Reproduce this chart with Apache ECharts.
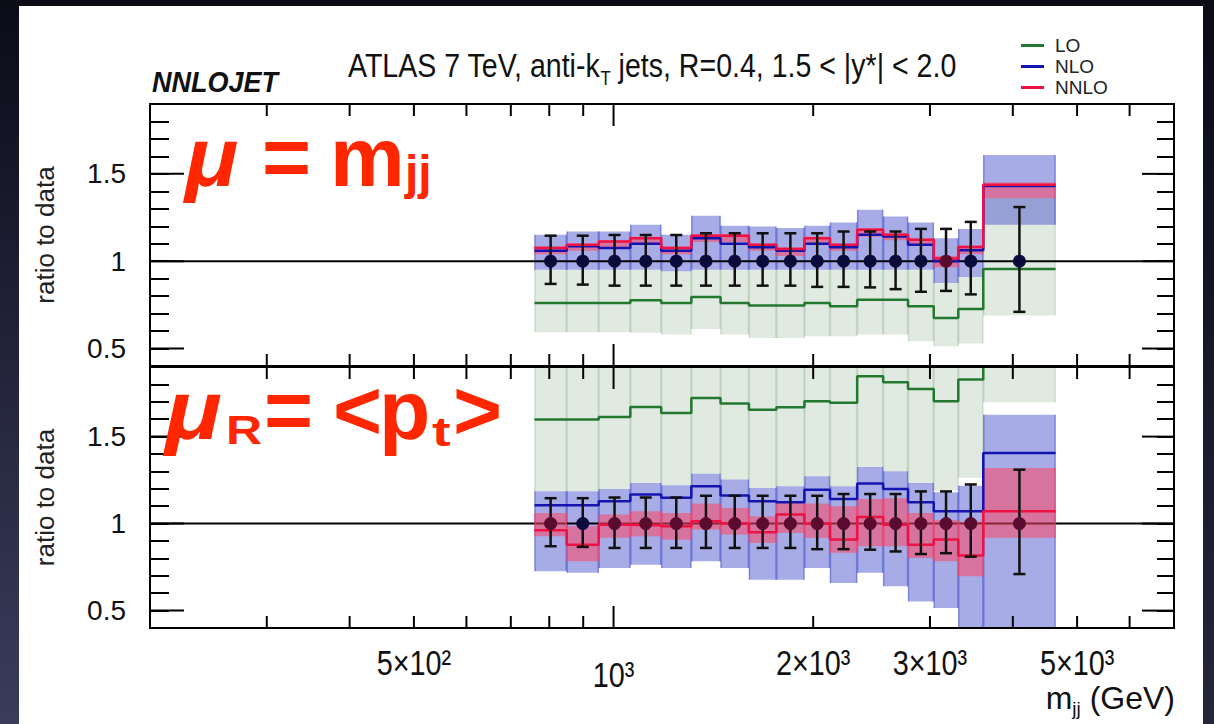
<!DOCTYPE html>
<html><head><meta charset="utf-8">
<script src="https://cdn.jsdelivr.net/npm/echarts@6/dist/echarts.min.js"></script>
<style>html,body{margin:0;padding:0;background:#fff}#c{width:1214px;height:724px}</style>
</head><body><div id="c"></div>
<script>
// ---------------- data ----------------
const binEdges = [760, 850, 950, 1060, 1180, 1310, 1450, 1600, 1760, 1940, 2120, 2330, 2550, 2780, 3040, 3310, 3610, 4640];
const dataRatio = [1, 1, 1, 1, 1, 1, 1, 1, 1, 1, 1, 1, 1, 1, 1, 1, 1];
const dataErrHigh = [1.146, 1.146, 1.15, 1.15, 1.15, 1.16, 1.16, 1.16, 1.16, 1.16, 1.17, 1.17, 1.17, 1.185, 1.185, 1.225, 1.31];
const dataErrLow  = [0.87, 0.866, 0.86, 0.86, 0.86, 0.86, 0.86, 0.86, 0.86, 0.853, 0.853, 0.85, 0.84, 0.825, 0.83, 0.81, 0.71];

// top panel: mu = m_jj
const loTop   = [0.761, 0.761, 0.761, 0.776, 0.761, 0.795, 0.761, 0.746, 0.746, 0.761, 0.742, 0.78, 0.78, 0.742, 0.675, 0.727, 0.955];
const nloTop  = [1.06, 1.085, 1.075, 1.10, 1.06, 1.132, 1.10, 1.08, 1.06, 1.10, 1.08, 1.151, 1.142, 1.094, 1.0, 1.062, 1.43];
const nnloTop = [1.075, 1.094, 1.113, 1.132, 1.075, 1.146, 1.146, 1.094, 1.07, 1.132, 1.094, 1.18, 1.151, 1.123, 1.015, 1.081, 1.437];
const loTopBandHi   = [0.951, 0.951, 0.951, 0.951, 0.942, 0.951, 0.951, 0.951, 0.951, 0.951, 0.951, 0.951, 0.951, 0.951, 0.875, 0.91, 1.36];
const loTopBandLo   = [0.593, 0.593, 0.593, 0.59, 0.58, 0.612, 0.58, 0.561, 0.561, 0.57, 0.57, 0.58, 0.58, 0.542, 0.513, 0.529, 0.689];
const nloTopBandHi  = [1.151, 1.17, 1.17, 1.209, 1.151, 1.26, 1.203, 1.199, 1.19, 1.203, 1.222, 1.294, 1.256, 1.222, 1.132, 1.184, 1.608];
const nloTopBandLo  = [0.951, 0.951, 0.951, 0.951, 0.942, 0.951, 0.951, 0.951, 0.951, 0.951, 0.951, 0.951, 0.951, 0.951, 0.875, 0.91, 1.209];
const nnloTopBandHi = [1.085, 1.10, 1.12, 1.14, 1.085, 1.155, 1.155, 1.10, 1.08, 1.14, 1.10, 1.19, 1.16, 1.13, 1.03, 1.09, 1.45];
const nnloTopBandLo = [1.04, 1.06, 1.08, 1.10, 1.04, 1.11, 1.11, 1.06, 1.03, 1.10, 1.06, 1.14, 1.12, 1.09, 0.965, 1.04, 1.36];

// bottom panel: mu_R = <p_t>
const loBot   = [1.598, 1.598, 1.613, 1.67, 1.636, 1.722, 1.69, 1.655, 1.669, 1.703, 1.694, 1.847, 1.812, 1.774, 1.703, 1.828, 2.05];
const nloBot  = [1.105, 1.105, 1.128, 1.167, 1.148, 1.214, 1.161, 1.128, 1.123, 1.195, 1.142, 1.23, 1.199, 1.123, 1.071, 1.071, 1.406];
const nnloBot = [0.962, 0.879, 0.994, 0.99, 0.985, 1.013, 1.0, 0.95, 1.052, 1.0, 0.908, 1.038, 0.994, 0.879, 0.908, 0.816, 1.071];
const loBotBandHi   = [2.3, 2.3, 2.3, 2.3, 2.3, 2.3, 2.3, 2.3, 2.3, 2.3, 2.3, 2.3, 2.3, 2.3, 2.3, 2.3, 2.3];
const loBotBandLo   = [1.186, 1.186, 1.199, 1.234, 1.22, 1.287, 1.253, 1.205, 1.214, 1.272, 1.214, 1.326, 1.301, 1.234, 1.19, 1.263, 1.697];
const nloBotBandHi  = [1.186, 1.186, 1.199, 1.234, 1.22, 1.287, 1.253, 1.205, 1.214, 1.272, 1.214, 1.326, 1.301, 1.234, 1.18, 1.218, 1.626];
const nloBotBandLo  = [0.726, 0.717, 0.745, 0.764, 0.745, 0.783, 0.745, 0.678, 0.678, 0.745, 0.659, 0.717, 0.64, 0.553, 0.515, 0.3, 0.3];
const nnloBotBandHi = [1.061, 0.985, 1.052, 1.071, 1.061, 1.115, 1.09, 1.042, 1.123, 1.115, 1.10, 1.142, 1.146, 1.061, 1.02, 1.01, 1.32];
const nnloBotBandLo = [0.927, 0.783, 0.918, 0.927, 0.908, 0.966, 0.937, 0.889, 0.946, 0.918, 0.832, 0.87, 0.87, 0.803, 0.783, 0.697, 0.918];

// axes
const xMin = 200, xMax = 7000;
const yMin = 0.4, yMax = 1.9;
const xMinorTicks = [300, 400, 500, 600, 700, 800, 900, 2000, 3000, 4000, 5000, 6000];
const xMajorTicks = [1000];
const xLabelValues = [500, 1000, 2000, 3000, 5000];
const xLabelTexts = ['5×10²', '10³', '2×10³', '3×10³', '5×10³'];
const yMajorTicks = [0.5, 1, 1.5];
const yLabelValues = [0.5, 1, 1.5];
const refLine = 1;

// ---------------- style ----------------
const FONT = "'Liberation Sans', Arial, Helvetica, sans-serif";
const C_LO = '#23782f', C_NLO = '#1414b0', C_NNLO = '#ee1144';
const F_LO = 'rgba(100,150,100,0.2)', F_NLO = 'rgba(60,70,200,0.45)', F_NNLO = 'rgba(255,70,100,0.55)';
const PT_PLAIN = '#0b0b3b', PT_UNDER_NNLO = '#5a0b2e';
const RED = '#ff2600';

const chart = echarts.init(document.getElementById('c'), null, {renderer: 'svg'});

function binCenters() { return binEdges.slice(0, -1).map((e, i) => Math.sqrt(e * binEdges[i + 1])); }

function bandSeries(g, lo, hi, color, z) {
  return {
    type: 'custom', xAxisIndex: g, yAxisIndex: g * 2, clip: true, z: z, silent: true,
    data: lo.map((l, i) => [binEdges[i], binEdges[i + 1], l, hi[i]]),
    encode: {x: [0, 1], y: [2, 3]},
    renderItem: function (params, api) {
      const a = api.coord([api.value(0), api.value(3)]);
      const b = api.coord([api.value(1), api.value(2)]);
      return {type: 'group', children: [
        {type: 'rect', shape: {x: a[0], y: a[1], width: b[0] - a[0], height: b[1] - a[1]}, style: {fill: color}},
        {type: 'line', shape: {x1: a[0] + 0.5, y1: a[1], x2: a[0] + 0.5, y2: b[1]}, style: {stroke: color, lineWidth: 1.5}},
        {type: 'line', shape: {x1: b[0] - 0.5, y1: a[1], x2: b[0] - 0.5, y2: b[1]}, style: {stroke: color, lineWidth: 1.5}}
      ]};
    }
  };
}

function stepSeries(g, name, vals, color, width, z) {
  const d = vals.map((v, i) => [binEdges[i], v]);
  d.push([binEdges[binEdges.length - 1], vals[vals.length - 1]]);
  return {
    type: 'line', name: name, xAxisIndex: g, yAxisIndex: g * 2, step: 'end', data: d,
    showSymbol: false, symbol: 'none', clip: true, z: z, silent: true, animation: false,
    color: color, lineStyle: {color: color, width: width}
  };
}

function errorSeries(g) {
  const c = binCenters();
  return {
    type: 'custom', xAxisIndex: g, yAxisIndex: g * 2, clip: true, z: 8, silent: true,
    data: c.map((x, i) => [x, dataErrLow[i], dataErrHigh[i]]),
    encode: {x: 0, y: [1, 2]},
    renderItem: function (params, api) {
      const lo = api.coord([api.value(0), api.value(1)]);
      const hi = api.coord([api.value(0), api.value(2)]);
      const st = {stroke: '#111', lineWidth: 2.5};
      return {type: 'group', children: [
        {type: 'line', shape: {x1: lo[0], y1: lo[1], x2: hi[0], y2: hi[1]}, style: st},
        {type: 'line', shape: {x1: lo[0] - 6, y1: lo[1], x2: lo[0] + 6, y2: lo[1]}, style: st},
        {type: 'line', shape: {x1: hi[0] - 6, y1: hi[1], x2: hi[0] + 6, y2: hi[1]}, style: st}
      ]};
    }
  };
}

// points drawn above the translucent NNLO band: the ones it covers look darkened red
function pointSeries(g, nnLo, nnHi) {
  const c = binCenters();
  return {
    type: 'scatter', xAxisIndex: g, yAxisIndex: g * 2, z: 9, silent: true,
    data: c.map((x, i) => ({value: [x, dataRatio[i]],
      itemStyle: {color: (dataRatio[i] >= nnLo[i] && dataRatio[i] <= nnHi[i]) ? PT_UNDER_NNLO : PT_PLAIN}})),
    symbol: 'circle', symbolSize: 13, itemStyle: {opacity: 1}
  };
}

function refSeries(g) {
  return {
    type: 'custom', xAxisIndex: g, yAxisIndex: g * 2, z: 3, silent: true,
    data: [[1000, refLine]],
    renderItem: function (params, api) {
      const cs = params.coordSys;
      const y = api.coord([api.value(0), api.value(1)])[1];
      return {type: 'line', shape: {x1: cs.x, y1: y, x2: cs.x + cs.width, y2: y}, style: {stroke: '#000', lineWidth: 2}};
    }
  };
}

function xTickSeries(g) {
  const d = xMinorTicks.map(v => [v, 1, 0]).concat(xMajorTicks.map(v => [v, 1, 1]));
  return {
    type: 'custom', xAxisIndex: g, yAxisIndex: g * 2, z: 10, silent: true, data: d,
    encode: {x: 0, y: 1},
    renderItem: function (params, api) {
      const cs = params.coordSys;
      const x = api.coord([api.value(0), api.value(1)])[0];
      const len = api.value(2) ? 22 : 12;
      const st = {stroke: '#000', lineWidth: 2};
      return {type: 'group', children: [
        {type: 'line', shape: {x1: x, y1: cs.y, x2: x, y2: cs.y + len}, style: st},
        {type: 'line', shape: {x1: x, y1: cs.y + cs.height, x2: x, y2: cs.y + cs.height - len}, style: st}
      ]};
    }
  };
}

function yTickSeries(g) {
  return {
    type: 'custom', xAxisIndex: g, yAxisIndex: g * 2, z: 10, silent: true,
    data: yMajorTicks.map(v => [1000, v]), encode: {x: 0, y: 1},
    renderItem: function (params, api) {
      const cs = params.coordSys;
      const y = api.coord([api.value(0), api.value(1)])[1];
      const st = {stroke: '#000', lineWidth: 2};
      return {type: 'group', children: [
        {type: 'line', shape: {x1: cs.x, y1: y, x2: cs.x + 34, y2: y}, style: st},
        {type: 'line', shape: {x1: cs.x + cs.width, y1: y, x2: cs.x + cs.width - 32, y2: y}, style: st}
      ]};
    }
  };
}

function xLabelSeries(g) {
  return {
    type: 'custom', xAxisIndex: g, yAxisIndex: g * 2, z: 10, silent: true, clip: false,
    data: xLabelValues.map((v, i) => [v, yMin, i]), encode: {x: 0, y: 1},
    renderItem: function (params, api) {
      const p = api.coord([api.value(0), api.value(1)]);
      const t = xLabelTexts[api.value(2)];
      const dy = t.indexOf('×') < 0 ? 12 : 0;
      return {type: 'text', x: p[0], y: p[1] + 34 + dy, scaleX: 0.8,
        style: {text: t, font: '36px ' + FONT, fill: '#111', align: 'center', verticalAlign: 'middle'}};
    }
  };
}

const grids = [
  {left: 150, top: 104, width: 1024, height: 262},
  {left: 150, top: 367, width: 1024, height: 261}
].map(g => Object.assign(g, {show: true, borderColor: '#000', borderWidth: 2, backgroundColor: 'transparent', z: 20}));

function xAxis(g) {
  return {gridIndex: g, type: 'log', logBase: 10, min: xMin, max: xMax,
    axisLine: {show: false}, axisTick: {show: false}, axisLabel: {show: false}, splitLine: {show: false}};
}
function yAxisLeft(g) {
  return {gridIndex: g, type: 'value', min: yMin, max: yMax, interval: 0.1, position: 'left',
    name: 'ratio to data', nameLocation: 'middle', nameRotate: 90, nameGap: 92,
    nameTextStyle: {fontSize: 26, fontFamily: FONT, color: '#222'},
    axisLine: {show: false}, splitLine: {show: false},
    axisTick: {show: true, inside: true, length: 19, lineStyle: {color: '#000', width: 2}},
    axisLabel: {show: true, margin: 24, fontSize: 28, fontFamily: FONT, color: '#111',
      formatter: function (v) {
        for (const L of yLabelValues) if (Math.abs(v - L) < 1e-6) return String(L);
        return '';
      }}};
}
function yAxisRight(g) {
  return {gridIndex: g, type: 'value', min: yMin, max: yMax, interval: 0.1, position: 'right',
    axisLine: {show: false}, splitLine: {show: false}, axisLabel: {show: false},
    axisTick: {show: true, inside: true, length: 17, lineStyle: {color: '#000', width: 2}}};
}

const series = [];
[[0, loTopBandLo, loTopBandHi, nloTopBandLo, nloTopBandHi, nnloTopBandLo, nnloTopBandHi, loTop, nloTop, nnloTop],
 [1, loBotBandLo, loBotBandHi, nloBotBandLo, nloBotBandHi, nnloBotBandLo, nnloBotBandHi, loBot, nloBot, nnloBot]]
.forEach(([g, lbl, lbh, nbl, nbh, rbl, rbh, lo, nlo, nnlo]) => {
  series.push(bandSeries(g, lbl, lbh, F_LO, 1));
  series.push(bandSeries(g, nbl, nbh, F_NLO, 2));
  series.push(refSeries(g));
  series.push(bandSeries(g, rbl, rbh, F_NNLO, 4));
  series.push(stepSeries(g, 'LO', lo, C_LO, 2.5, 5));
  series.push(stepSeries(g, 'NLO', nlo, C_NLO, 2.5, 6));
  series.push(stepSeries(g, 'NNLO', nnlo, C_NNLO, 2.5, 7));
  series.push(errorSeries(g));
  series.push(pointSeries(g, rbl, rbh));
  series.push(xTickSeries(g));
  series.push(yTickSeries(g));
});
series.push(xLabelSeries(1));

const graphic = [
  {type: 'rect', left: 0, top: 0, shape: {width: 19, height: 724}, silent: true,
   style: {fill: new echarts.graphic.LinearGradient(0, 0, 0, 1, [{offset: 0, color: '#0b0c18'}, {offset: 1, color: '#3a3c5c'}])}},
  {type: 'rect', left: 0, top: 0, shape: {width: 1214, height: 6}, silent: true, style: {fill: '#0b0c16'}},
  {type: 'rect', left: 1203, top: 0, shape: {width: 11, height: 724}, silent: true,
   style: {fill: new echarts.graphic.LinearGradient(0, 0, 0, 1, [{offset: 0, color: '#0b0b16'}, {offset: 1, color: '#24263a'}])}},
  {type: 'text', x: 152, y: 81, scaleX: 0.9, silent: true,
   style: {text: 'NNLOJET', font: 'italic bold 30px ' + FONT, fill: '#111', verticalAlign: 'middle'}},
  {type: 'text', x: 348, y: 66, scaleX: 0.84, silent: true,
   style: {text: '{a|ATLAS 7 TeV, anti-k}{s|T}{a| jets, R=0.4, 1.5 < |y*| < 2.0}', verticalAlign: 'middle',
     rich: {a: {font: '34px ' + FONT, fill: '#111', lineHeight: 40}, s: {font: '20px ' + FONT, fill: '#111', lineHeight: 44, verticalAlign: 'bottom'}}}},
  {type: 'text', x: 1175, y: 698, silent: true,
   style: {text: '{a|m}{s|jj}{a| (GeV)}', align: 'right', verticalAlign: 'middle',
     rich: {a: {font: '32px ' + FONT, fill: '#111', lineHeight: 36}, s: {font: '19px ' + FONT, fill: '#111', lineHeight: 40, verticalAlign: 'bottom'}}}},
  // red overlays
  {type: 'text', x: 185, y: 157, z: 100, scaleX: 1.05, silent: true, style: {text: 'μ', font: 'italic bold 84px ' + FONT, fill: RED, verticalAlign: 'middle'}},
  {type: 'text', x: 262, y: 157, z: 100, silent: true, style: {text: '=', font: 'bold 84px ' + FONT, fill: RED, verticalAlign: 'middle'}},
  {type: 'text', x: 330, y: 157, z: 100, silent: true, style: {text: 'm', font: 'bold 84px ' + FONT, fill: RED, verticalAlign: 'middle'}},
  {type: 'text', x: 405, y: 172, z: 100, silent: true, style: {text: 'jj', font: 'bold 48px ' + FONT, fill: RED, verticalAlign: 'middle'}},
  {type: 'text', x: 165, y: 410, z: 100, scaleX: 1.12, silent: true, style: {text: 'μ', font: 'italic bold 84px ' + FONT, fill: RED, verticalAlign: 'middle'}},
  {type: 'text', x: 226, y: 430, z: 100, scaleX: 1.25, silent: true, style: {text: 'R', font: 'bold 40px ' + FONT, fill: RED, verticalAlign: 'middle'}},
  {type: 'text', x: 264, y: 410, z: 100, silent: true, style: {text: '=', font: 'bold 84px ' + FONT, fill: RED, verticalAlign: 'middle'}},
  {type: 'text', x: 333, y: 410, z: 100, silent: true, style: {text: '<', font: 'bold 84px ' + FONT, fill: RED, verticalAlign: 'middle'}},
  {type: 'text', x: 379, y: 410, z: 100, silent: true, style: {text: 'p', font: 'bold 84px ' + FONT, fill: RED, verticalAlign: 'middle'}},
  {type: 'text', x: 432, y: 432, z: 100, scaleX: 1.4, silent: true, style: {text: 't', font: 'bold 40px ' + FONT, fill: RED, verticalAlign: 'middle'}},
  {type: 'text', x: 453, y: 410, z: 100, silent: true, style: {text: '>', font: 'bold 84px ' + FONT, fill: RED, verticalAlign: 'middle'}}
];

chart.setOption({
  animation: false,
  backgroundColor: '#ffffff',
  grid: grids,
  xAxis: [xAxis(0), xAxis(1)],
  yAxis: [yAxisLeft(0), yAxisRight(0), yAxisLeft(1), yAxisRight(1)],
  legend: {data: ['LO', 'NLO', 'NNLO'], orient: 'vertical', left: 1016, top: 31, icon: 'rect',
    itemWidth: 23, itemHeight: 3, itemGap: 2, selectedMode: false,
    textStyle: {fontSize: 19, fontFamily: FONT, color: '#222', lineHeight: 15, padding: [0, 0, 0, 6]}},
  graphic: graphic,
  series: series
});
</script>
</body></html>
